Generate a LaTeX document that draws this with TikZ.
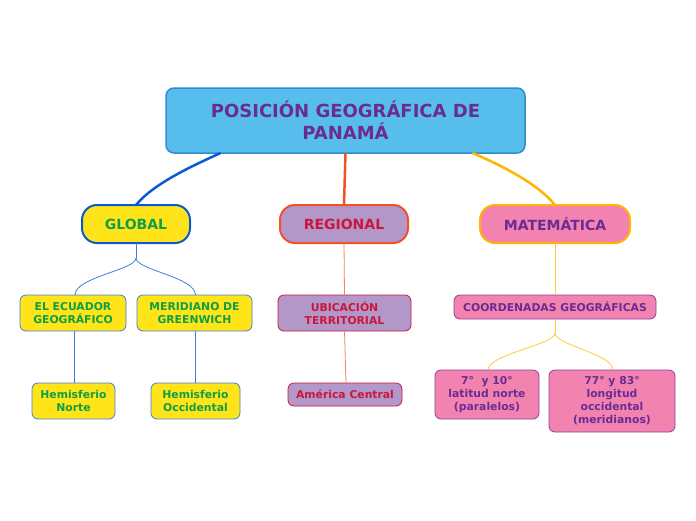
\documentclass[tikz,border=0pt]{standalone}
\usepackage{fontspec}
\setmainfont{DejaVu Sans}
\definecolor{rootfill}{HTML}{56BDEC}
\definecolor{rootdraw}{HTML}{2D8ECF}
\definecolor{purpletxt}{HTML}{6A2C91}
\definecolor{yel}{HTML}{FFE41A}
\definecolor{greentxt}{HTML}{0E9E47}
\definecolor{blueline}{HTML}{0B5AD5}
\definecolor{bluethin}{HTML}{3E7FD8}
\definecolor{lav}{HTML}{B497C9}
\definecolor{redorange}{HTML}{F0522B}
\definecolor{crimson}{HTML}{C8163D}
\definecolor{pink}{HTML}{F283B1}
\definecolor{amber}{HTML}{FFB502}
\definecolor{amberthin}{HTML}{FFC93A}
\definecolor{orangethin}{HTML}{F2845A}
\definecolor{pinkdraw}{HTML}{8E3E9E}
\tikzset{
  base/.style={align=center, font=\bfseries, inner sep=0pt, outer sep=0pt},
  rootbox/.style={base, fill=rootfill, draw=rootdraw, line width=1.5pt, rounded corners=8pt, minimum width=359pt, minimum height=65pt, text=purpletxt, font=\bfseries\fontsize{18}{22}\selectfont},
  mainbox/.style={base, line width=2pt, rounded corners=15pt, minimum height=38pt, font=\bfseries\fontsize{14}{16}\selectfont},
  subbox/.style={base, line width=0.8pt, rounded corners=6pt, font=\bfseries\fontsize{10.8}{13}\selectfont},
  ybox/.style={subbox, fill=yel, draw=bluethin, text=greentxt},
  lbox/.style={subbox, fill=lav, draw=crimson, text=crimson},
  pbox/.style={subbox, fill=pink, draw=pinkdraw, text=purpletxt},
  thinblue/.style={draw=bluethin, line width=0.8pt},
  thinorange/.style={draw=orangethin, line width=0.8pt},
  thinamber/.style={draw=amberthin, line width=0.8pt},
}
\begin{document}
\begin{tikzpicture}[x=1pt,y=-1pt]
\path[use as bounding box] (0,0) rectangle (696,520);
\node[rootbox] (root) at (345.5,120.5) {POSICIÓN GEOGRÁFICA DE\\PANAMÁ};
\node[mainbox, fill=yel, draw=blueline, text=greentxt, minimum width=108pt] (global) at (136,224) {GLOBAL};
\node[mainbox, fill=lav, draw=redorange, text=crimson, minimum width=128pt] (regional) at (344,224) {REGIONAL};
\node[mainbox, fill=pink, draw=amber, text=purpletxt, minimum width=150pt] (mate) at (555,224) {MATEMÁTICA};

\node[ybox, minimum width=106pt, minimum height=36pt] (ecuador) at (73,313) {EL ECUADOR\\GEOGRÁFICO};
\node[ybox, minimum width=115pt, minimum height=36pt] (green) at (194.5,313) {MERIDIANO DE\\GREENWICH};
\node[ybox, minimum width=83pt, minimum height=36pt] (norte) at (73.5,401) {Hemisferio\\Norte};
\node[ybox, minimum width=89pt, minimum height=36pt] (occ) at (195.5,401) {Hemisferio\\Occidental};

\node[lbox, minimum width=133pt, minimum height=36pt] (ubic) at (344.5,313) {UBICACIÓN\\TERRITORIAL};
\node[lbox, minimum width=114pt, minimum height=23pt] (amer) at (345,394.5) {América Central};

\node[pbox, minimum width=202pt, minimum height=24pt] (coord) at (555,307) {COORDENADAS GEOGRÁFICAS};
\node[pbox, minimum width=104pt, minimum height=49pt] (lat) at (487,394.5) {7°\ \ y 10°\\latitud norte\\(paralelos)};
\node[pbox, minimum width=126pt, minimum height=62pt] (lon) at (612,401) {77° y 83°\\longitud\\occidental\\(meridianos)};

% main connectors
\draw[blueline, line width=2.5pt] ([xshift=-125pt]root.south) .. controls +(-26,12) and +(18,-22) .. (global.north);
\draw[redorange, line width=2.5pt] (root.south) -- (regional.north);
\draw[amber, line width=2.5pt] ([xshift=127pt]root.south) .. controls +(28,12) and +(-18,-22) .. (mate.north);

% global children
\draw[thinblue] (global.south) -- ++(0,15) coordinate (gs);
\draw[thinblue] (gs) .. controls +(0,12) and +(0,-18) .. ([xshift=2pt]ecuador.north);
\draw[thinblue] (gs) .. controls +(0,12) and +(0,-18) .. ([xshift=1pt]green.north);
\draw[thinblue] ([xshift=1pt]ecuador.south) -- ([xshift=0.5pt]norte.north);
\draw[thinblue] ([xshift=1pt]green.south) -- ([xshift=0pt]occ.north);

% regional children
\draw[thinorange] (regional.south) -- (ubic.north);
\draw[thinorange] (ubic.south) -- ([xshift=1pt]amer.north);

% matematica children
\draw[thinamber] (mate.south) -- (coord.north);
\draw[thinamber] (coord.south) -- ++(0,14) coordinate (cs);
\draw[thinamber] (cs) .. controls +(0,12) and +(0,-16) .. ([xshift=1pt]lat.north);
\draw[thinamber] (cs) .. controls +(0,12) and +(0,-16) .. ([xshift=1pt]lon.north);
\end{tikzpicture}
\end{document}
